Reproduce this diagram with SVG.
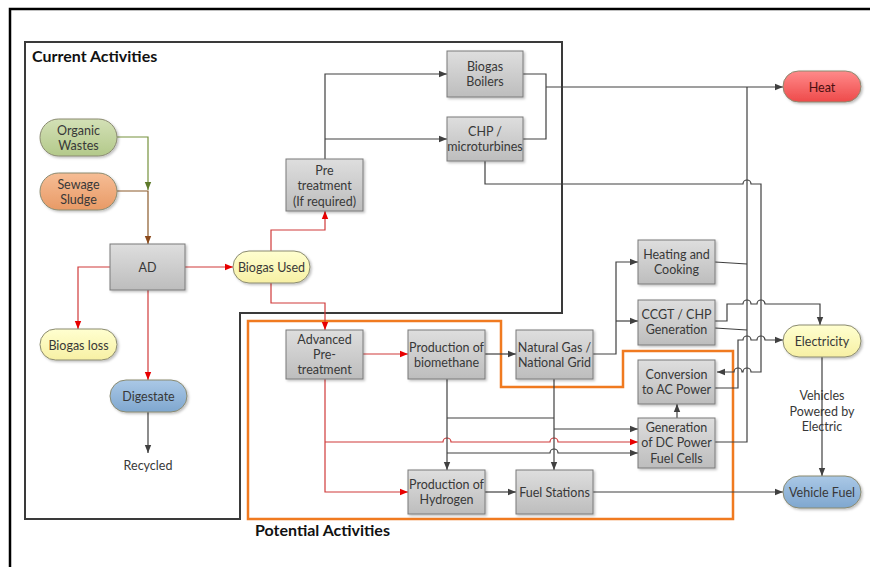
<svg xmlns="http://www.w3.org/2000/svg" width="870" height="567" viewBox="0 0 870 567">
<defs>
<linearGradient id="gGray" x1="0" y1="0" x2="0" y2="1"><stop offset="0" stop-color="#dedede"/><stop offset="1" stop-color="#bdbdbd"/></linearGradient>
<linearGradient id="gGreen" x1="0" y1="0" x2="0" y2="1"><stop offset="0" stop-color="#d3e0b6"/><stop offset="1" stop-color="#b3c98a"/></linearGradient>
<linearGradient id="gOrange" x1="0" y1="0" x2="0" y2="1"><stop offset="0" stop-color="#f6bd95"/><stop offset="1" stop-color="#e89a66"/></linearGradient>
<linearGradient id="gYellow" x1="0" y1="0" x2="0" y2="1"><stop offset="0" stop-color="#ffffd0"/><stop offset="1" stop-color="#f7f0a4"/></linearGradient>
<linearGradient id="gBlue" x1="0" y1="0" x2="0" y2="1"><stop offset="0" stop-color="#aac8e6"/><stop offset="1" stop-color="#7fa7cf"/></linearGradient>
<linearGradient id="gRed" x1="0" y1="0" x2="0" y2="1"><stop offset="0" stop-color="#ff8a8a"/><stop offset="1" stop-color="#ee4a4a"/></linearGradient>
<filter id="sh" x="-10%" y="-10%" width="130%" height="140%"><feDropShadow dx="1.5" dy="1.5" stdDeviation="1" flood-color="#000" flood-opacity="0.25"/></filter>
<marker id="aD" viewBox="0 0 10 10" refX="10" refY="5" markerWidth="8" markerHeight="8" orient="auto" markerUnits="userSpaceOnUse"><path d="M0,1 L10,5 L0,9 z" fill="#404040"/></marker>
<marker id="aR" viewBox="0 0 10 10" refX="10" refY="5" markerWidth="8" markerHeight="8" orient="auto" markerUnits="userSpaceOnUse"><path d="M0,1 L10,5 L0,9 z" fill="#e80000"/></marker>
<marker id="aG" viewBox="0 0 10 10" refX="10" refY="5" markerWidth="8" markerHeight="8" orient="auto" markerUnits="userSpaceOnUse"><path d="M0,1 L10,5 L0,9 z" fill="#5e7a2a"/></marker>
<marker id="aB" viewBox="0 0 10 10" refX="10" refY="5" markerWidth="8" markerHeight="8" orient="auto" markerUnits="userSpaceOnUse"><path d="M0,1 L10,5 L0,9 z" fill="#8b4a1b"/></marker>
</defs>
<style>
text{font-family:Lato,"Liberation Sans",sans-serif;font-size:12.5px;fill:#383838;text-anchor:middle}
.t{font-weight:bold;font-size:16px;fill:#111;text-anchor:start}
.box{fill:url(#gGray);stroke:#7a7a7a;stroke-width:1;filter:url(#sh)}
.pill{stroke:#8a8a70;stroke-width:1;filter:url(#sh)}
.c{fill:none;stroke:#404040;stroke-width:1.2}
.r{fill:none;stroke:#d03a3a;stroke-width:1.2}
.ad{marker-end:url(#aD)}
.ar{marker-end:url(#aR)}
</style>
<rect width="870" height="567" fill="#fff"/>
<rect x="10" y="9" width="880" height="580" fill="none" stroke="#000" stroke-width="2.5"/>
<g id="containers">
<path d="M25,42 H562 V313 H240 V519 H25 Z" fill="none" stroke="#3a3a3a" stroke-width="2"/>
<path d="M248,321 H501 V387 H623 V351 H733 V519 H248 Z" fill="none" stroke="#f07a20" stroke-width="2.5"/>
<text class="t" x="32" y="62">Current Activities</text>
<text class="t" x="255" y="536">Potential Activities</text>
</g>
<g id="connectors">
<path d="M117,137 H148 V190" fill="none" stroke="#76923c" stroke-width="1.2" marker-end="url(#aG)"/>
<path d="M117,191 H148 V244" fill="none" stroke="#8b5a2b" stroke-width="1.2" marker-end="url(#aB)"/>
<path class="r ar" d="M185,267 H233"/>
<path class="r ar" d="M110,267 H78 V329"/>
<path class="r ar" d="M148,290 V380"/>
<path class="r ar" d="M271,251 V230 H325 V211"/>
<path class="r ar" d="M271,283 V303 H325 V330"/>
<path class="r ar" d="M363,354 H408"/>
<path class="r ar" d="M325,379 V492 H408"/>
<path class="r ar" d="M325,442 H443 A4,4 0 0 1 451,442 H550 A4,4 0 0 1 558,442 H638"/>
<path class="c ad" d="M148,412 V453"/>
<path class="c ad" d="M325,159 V74 H447"/>
<path class="c ad" d="M325,139 H447"/>
<path class="c" d="M523,74 H546 V139 H523"/>
<path class="c ad" d="M546,87 H783"/>
<path class="c ad" d="M485,161 V184 H743 A4,4 0 0 1 751,184 H761 V372 H751 A4,4 0 0 0 743,372 H742 A4,4 0 0 0 734,372 H717"/>
<path class="c ad" d="M485,354 H516"/>
<path class="c ad" d="M593,354 H616 V262 H638"/>
<path class="c ad" d="M616,321 H638"/>
<path class="c" d="M715,262 L747,264"/>
<path class="c" d="M715,328 L747,330"/>
<path class="c ad" d="M715,321 H727 V304 H743 A4,4 0 0 1 751,304 H757 A4,4 0 0 1 765,304 H820 V325"/>
<path class="c ad" d="M715,388 H738 V340 H743 A4,4 0 0 1 751,340 H757 A4,4 0 0 1 765,340 H783"/>
<path class="c" d="M715,442 H747 V87"/>
<path class="c ad" d="M677,418 V404"/>
<path class="c ad" d="M822,357 V476"/>
<path class="c ad" d="M593,492 H783"/>
<path class="c ad" d="M485,492 H516"/>
<path class="c ad" d="M447,379 V470"/>
<path class="c ad" d="M554,379 V470"/>
<path class="c" d="M447,418 H554"/>
<path class="c ad" d="M554,429 H638"/>
<path class="c ad" d="M447,453 H550 A4,4 0 0 1 558,453 H638"/>
</g>
<g id="n-organic"><rect class="pill" x="40" y="119" width="77" height="37" rx="18.5" fill="url(#gGreen)"/><text x="78.5" y="134.5">Organic</text><text x="78.5" y="149.5">Wastes</text></g>
<g id="n-sewage"><rect class="pill" x="40" y="173" width="77" height="37" rx="18.5" fill="url(#gOrange)"/><text x="78.5" y="188.5">Sewage</text><text x="78.5" y="203.5">Sludge</text></g>
<g id="n-ad"><rect class="box" x="110" y="244" width="75" height="46"/><text x="147.5" y="271.5">AD</text></g>
<g id="n-biogasloss"><rect class="pill" x="40" y="329" width="77" height="31" rx="15.5" fill="url(#gYellow)"/><text x="78.5" y="349.5">Biogas loss</text></g>
<g id="n-digestate"><rect class="pill" x="110" y="380" width="77" height="32" rx="16" fill="url(#gBlue)" stroke="#5a7a9a"/><text x="148.5" y="400.5">Digestate</text></g>
<g id="n-recycled"><text x="148" y="469.5">Recycled</text></g>
<g id="n-biogasused"><rect class="pill" x="233" y="251" width="77" height="32" rx="16" fill="url(#gYellow)"/><text x="271.5" y="271.5">Biogas Used</text></g>
<g id="n-pre"><rect class="box" x="286" y="159" width="77" height="52"/><text x="324.5" y="174.5">Pre</text><text x="324.5" y="190">treatment</text><text x="324.5" y="205.5">(If required)</text></g>
<g id="n-boilers"><rect class="box" x="447" y="51" width="76" height="46"/><text x="485" y="71">Biogas</text><text x="485" y="86">Boilers</text></g>
<g id="n-chp"><rect class="box" x="447" y="117" width="76" height="44"/><text x="485" y="136">CHP /</text><text x="485" y="151">microturbines</text></g>
<g id="n-heat"><rect class="pill" x="783" y="71" width="78" height="31" rx="15.5" fill="url(#gRed)" stroke="#a04040"/><text x="822" y="91.5" style="fill:#4a1010">Heat</text></g>
<g id="n-heating"><rect class="box" x="638" y="240" width="77" height="44"/><text x="676.5" y="259">Heating and</text><text x="676.5" y="274">Cooking</text></g>
<g id="n-ccgt"><rect class="box" x="638" y="300" width="77" height="45"/><text x="676.5" y="318.5">CCGT / CHP</text><text x="676.5" y="333.5">Generation</text></g>
<g id="n-conv"><rect class="box" x="638" y="360" width="77" height="44"/><text x="676.5" y="378.5">Conversion</text><text x="676.5" y="394">to AC Power</text></g>
<g id="n-dc"><rect class="box" x="638" y="418" width="77" height="50"/><text x="676.5" y="431.5">Generation</text><text x="676.5" y="447">of DC Power</text><text x="676.5" y="462.5">Fuel Cells</text></g>
<g id="n-elec"><rect class="pill" x="783" y="325" width="78" height="32" rx="16" fill="url(#gYellow)"/><text x="822" y="345.5">Electricity</text></g>
<g id="n-vf"><rect class="pill" x="783" y="476" width="78" height="32" rx="16" fill="url(#gBlue)" stroke="#5a7a9a"/><text x="822" y="496.5">Vehicle Fuel</text></g>
<g id="n-ve"><text x="822" y="400">Vehicles</text><text x="822" y="415.5">Powered by</text><text x="822" y="430.5">Electric</text></g>
<g id="n-ng"><rect class="box" x="516" y="330" width="77" height="49"/><text x="554.5" y="351.5">Natural Gas /</text><text x="554.5" y="366.5">National Grid</text></g>
<g id="n-adv"><rect class="box" x="286" y="330" width="77" height="49"/><text x="324.5" y="343.5">Advanced</text><text x="324.5" y="358.5">Pre-</text><text x="324.5" y="373.5">treatment</text></g>
<g id="n-bm"><rect class="box" x="408" y="330" width="77" height="49"/><text x="446.5" y="351.5">Production of</text><text x="446.5" y="366.5">biomethane</text></g>
<g id="n-h2"><rect class="box" x="408" y="470" width="77" height="44"/><text x="446.5" y="488.5">Production of</text><text x="446.5" y="503.5">Hydrogen</text></g>
<g id="n-fs"><rect class="box" x="516" y="470" width="77" height="44"/><text x="554.5" y="496.5">Fuel Stations</text></g>
</svg>
